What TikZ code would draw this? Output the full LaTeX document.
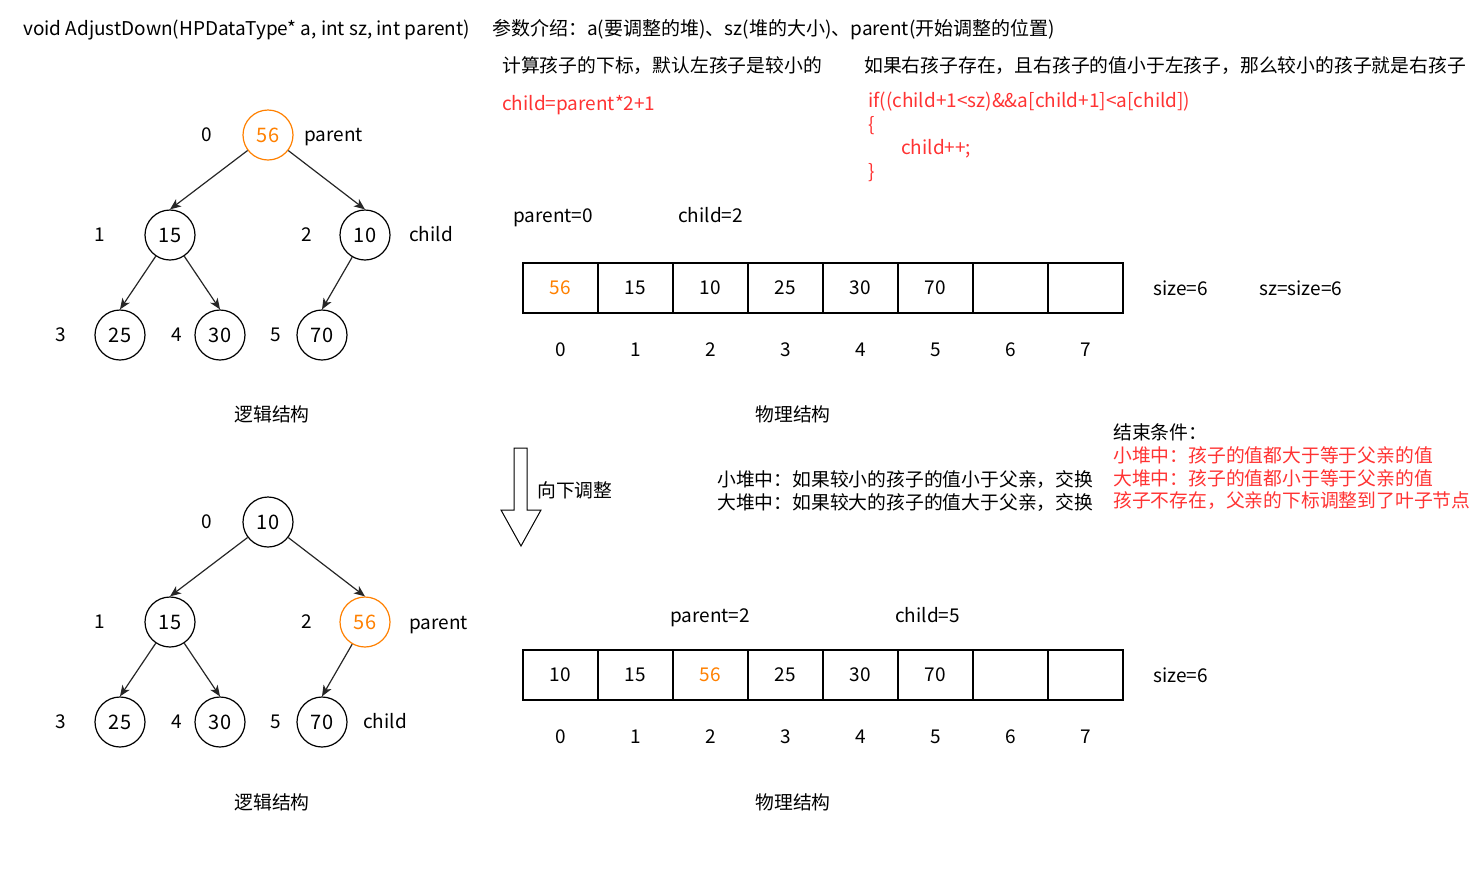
\documentclass[tikz,border=0pt]{standalone}
\usepackage{fontspec}
\setmainfont{Noto Sans CJK SC}
\usetikzlibrary{positioning,arrows.meta,calc}
\definecolor{hlorange}{HTML}{FF8000}
\definecolor{codered}{HTML}{FF3333}

\begin{document}
\begin{tikzpicture}[
  >={Stealth[length=11pt,width=9pt,inset=3pt]},
  x=1pt, y=-1pt,
  keynode/.style={circle, draw=black, line width=1.2pt, minimum size=50pt, inner sep=0pt, font=\fontsize{20}{22}\selectfont},
  hinode/.style={keynode, draw=hlorange, text=hlorange},
  cell/.style={rectangle, draw=black, line width=1.2pt, minimum width=75pt, minimum height=50pt, inner sep=0pt, font=\fontsize{19}{22}\selectfont},
  link/.style={->, draw=black!85, line width=1.2pt},              % tree edges
  txt/.style={font=\fontsize{19}{22}\selectfont, inner sep=0pt, text height=13.5pt, text depth=0pt, anchor=west},
  idx/.style={txt, anchor=center},
  cn/.style={font=\fontsize{18.8}{22}\selectfont, inner sep=0pt, anchor=west},
  redtxt/.style={text=codered},
]
\useasboundingbox (0,0) rectangle (1476,895);

% ============================== header ==============================
\node[txt] (sig) at (23,29) {void AdjustDown(HPDataType* a, int sz, int parent)};
\node[txt] (params) at (492,29) {参数介绍：a(要调整的堆)、sz(堆的大小)、parent(开始调整的位置)};
\node[cn] (calc) at (502,66) {计算孩子的下标，默认左孩子是较小的};
\node[txt,redtxt] (formula) at (502,104) {child=parent*2+1};
\node[cn] (rchild) at (864,66) {如果右孩子存在，且右孩子的值小于左孩子，那么较小的孩子就是右孩子};
\node[txt,redtxt] (code1) at (868,101) {if((child+1<sz)\&\&a[child+1]<a[child])};
\node[txt,redtxt] (code2) at (868,125) {\{};
\node[txt,redtxt] (code3) at (901,148) {child++;};
\node[txt,redtxt] (code4) at (868,172) {\}};

% ============================== tree (before) ==============================
\foreach \i/\v/\px/\py in {0/56/268/135, 1/15/170/235, 2/10/365/235, 3/25/120/335, 4/30/220/335, 5/70/322/335}{
  \ifnum\i=0 \node[hinode] (t\i) at (\px,\py) {\v};
  \else      \node[keynode] (t\i) at (\px,\py) {\v};\fi
}
\foreach \p/\c in {0/1, 0/2, 1/3, 1/4, 2/5}{ \draw[link] (t\p) -- (t\c.north); }
\foreach \i/\px/\py in {0/207/135, 1/100/235, 2/307/235, 3/61/335, 4/177/335, 5/276/335}{
  \node[idx] (ti\i) at (\px,\py) {\i};
}
\node[txt] (tpar) at (304,135) {parent};
\node[txt] (tchi) at (409,235) {child};
\node[cn,anchor=center] (tlog) at (272,414) {逻辑结构};

% ============================== array (before) ==============================
\node[txt] (apar) at (513,216) {parent=0};
\node[txt] (achi) at (678,216) {child=2};
\foreach \i/\v in {0/56, 1/15, 2/10, 3/25, 4/30, 5/70, 6/, 7/}{
  \ifnum\i=0 \node[cell,text=hlorange] (a\i) at ({560.5+75*\i},288) {\v};
  \else      \node[cell] (a\i) at ({560.5+75*\i},288) {\v};\fi
  \node[idx] (ai\i) at ([yshift=-36pt]a\i.south) {\i};
}
\node[txt] (asize) at (1153,289) {size=6};
\node[txt] (asz) at (1259,289) {sz=size=6};
\node[cn,anchor=center] (aphy) at (793,414) {物理结构};

% ============================== step arrow & rules ==============================
\draw[line width=1pt] (514,448) -- (527,448) -- (527,510) -- (541,510) -- (521,546)
   -- (501,510) -- (514,510) -- cycle;
\node[cn] (down) at (537,490) {向下调整};
\node[cn] (rule1) at (717,480) {小堆中：如果较小的孩子的值小于父亲，交换};
\node[cn] (rule2) at (717,503) {大堆中：如果较大的孩子的值大于父亲，交换};
\node[cn] (endt) at (1113,432) {结束条件：};
\node[cn,redtxt] (end1) at (1113,455) {小堆中：孩子的值都大于等于父亲的值};
\node[cn,redtxt] (end2) at (1113,478) {大堆中：孩子的值都小于等于父亲的值};
\node[cn,redtxt] (end3) at (1113,501) {孩子不存在，父亲的下标调整到了叶子节点};

% ============================== tree (after) ==============================
\begin{scope}[shift={(0,387)}]
  \foreach \i/\v/\px/\py in {0/10/268/135, 1/15/170/235, 2/56/365/235, 3/25/120/335, 4/30/220/335, 5/70/322/335}{
    \ifnum\i=2 \node[hinode] (u\i) at (\px,\py) {\v};
    \else      \node[keynode] (u\i) at (\px,\py) {\v};\fi
  }
  \foreach \p/\c in {0/1, 0/2, 1/3, 1/4, 2/5}{ \draw[link] (u\p) -- (u\c.north); }
  \foreach \i/\px/\py in {0/207/135, 1/100/235, 2/307/235, 3/61/335, 4/177/335, 5/276/335}{
    \node[idx] (ui\i) at (\px,\py) {\i};
  }
  \node[txt] (upar) at (409,236) {parent};
  \node[txt] (uchi) at (363,335) {child};
  \node[cn,anchor=center] (ulog) at (272,415) {逻辑结构};
\end{scope}

% ============================== array (after) ==============================
\node[txt] (bpar) at (670,616) {parent=2};
\node[txt] (bchi) at (895,616) {child=5};
\foreach \i/\v in {0/10, 1/15, 2/56, 3/25, 4/30, 5/70, 6/, 7/}{
  \ifnum\i=2 \node[cell,text=hlorange] (b\i) at ({560.5+75*\i},675) {\v};
  \else      \node[cell] (b\i) at ({560.5+75*\i},675) {\v};\fi
  \node[idx] (bi\i) at ([yshift=-36pt]b\i.south) {\i};
}
\node[txt] (bsize) at (1153,676) {size=6};
\node[cn,anchor=center] (bphy) at (793,802) {物理结构};
\end{tikzpicture}
\end{document}
